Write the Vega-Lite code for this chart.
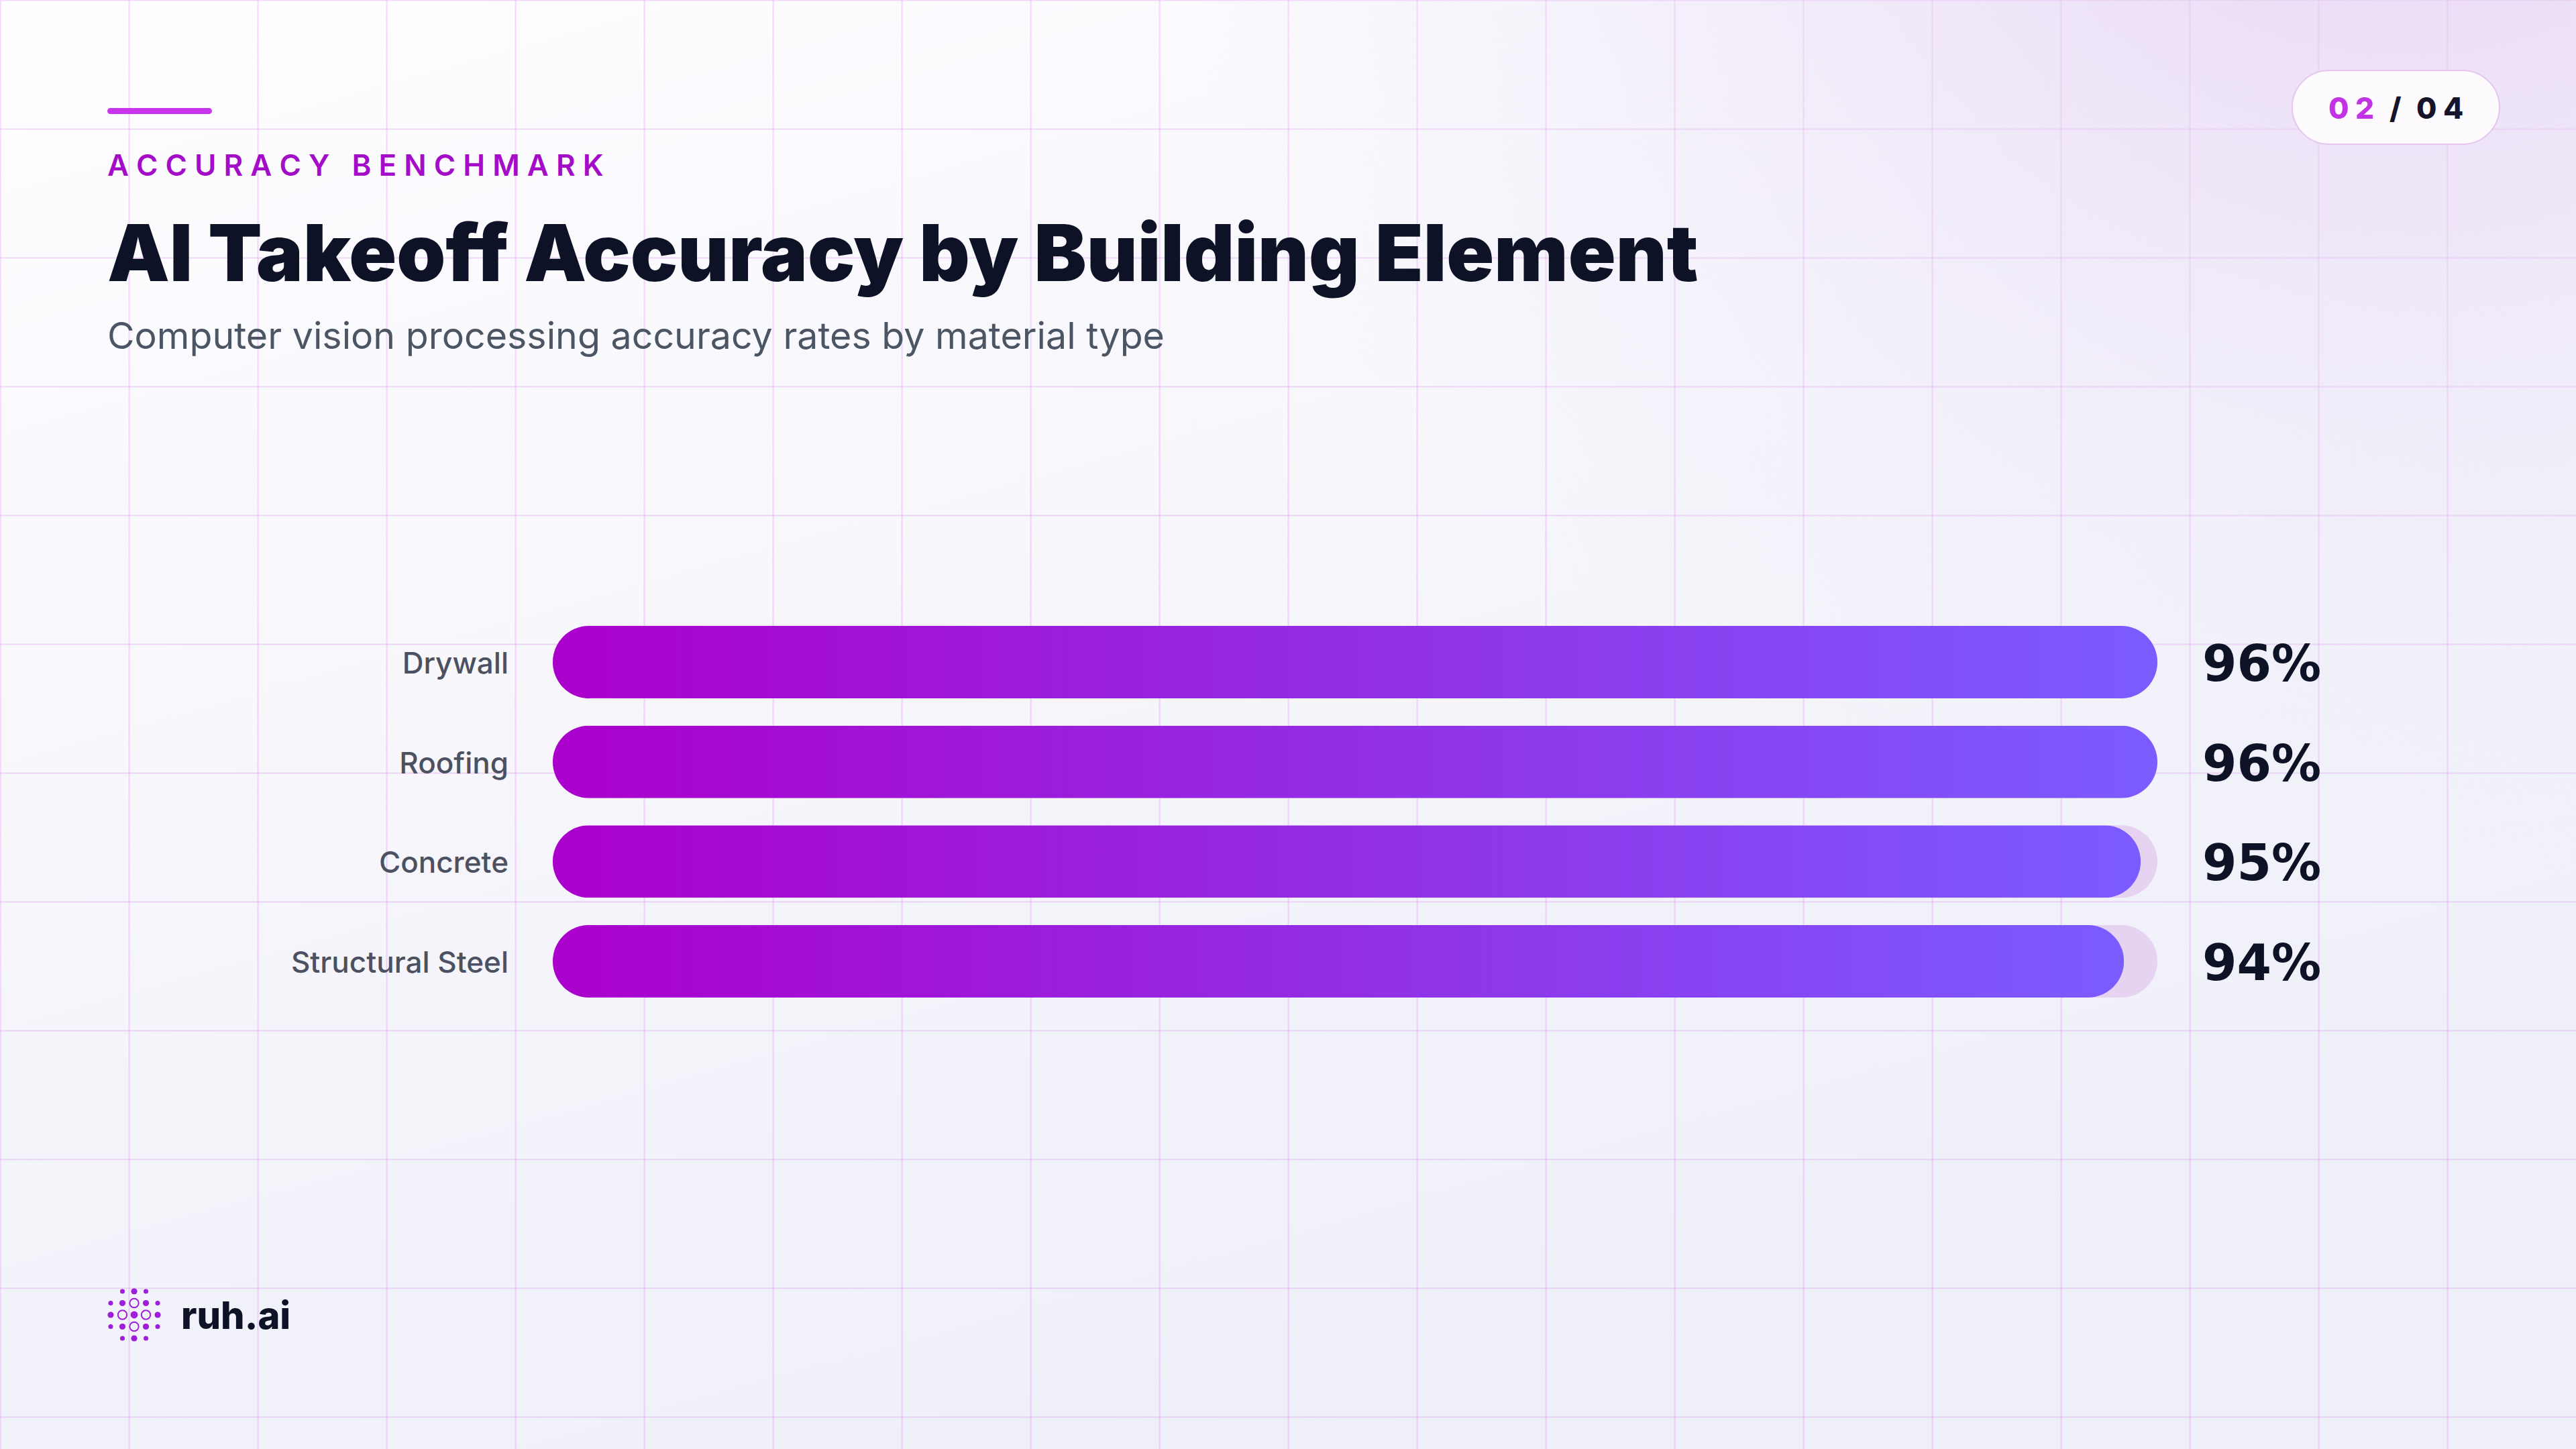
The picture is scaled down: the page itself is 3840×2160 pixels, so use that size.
{
  "$schema": "https://vega.github.io/schema/vega-lite/v6.json",
  "width": 3840,
  "height": 2160,
  "padding": 0,
  "autosize": {"type": "none"},
  "background": "#f6f6fa",
  "config": {
    "font": "Inter",
    "view": {
      "stroke": null,
      "fill": {"gradient": "linear", "x1": 0, "y1": 0, "x2": 0.5, "y2": 1, "stops": [{"offset": 0, "color": "#fefdff"}, {"offset": 1, "color": "#eeeff8"}]}
    },
    "axis": {"labels": false, "ticks": false, "domain": false, "grid": false}
  },
  "resolve": {"scale": {"x": "independent", "y": "independent", "size": "independent"}},
  "layer": [
    {
      "data": {"values": [{"slide": 2, "of": 4}]},
      "layer": [
        {
          "mark": {"type": "rect", "fill": {"gradient": "radial", "x1": 0.93, "y1": 0.06, "r1": 0, "x2": 0.93, "y2": 0.06, "r2": 0.5, "stops": [{"offset": 0, "color": "rgba(224,196,242,0.9)"}, {"offset": 0.45, "color": "rgba(230,212,244,0.5)"}, {"offset": 1, "color": "rgba(236,232,248,0)"}]}},
          "encoding": {
            "x": {"datum": 0, "type": "quantitative", "title": null, "scale": {"domain": [0, 100], "nice": false, "zero": false},
              "axis": {"grid": true, "values": [0, 5, 10, 15, 20, 25, 30, 35, 40, 45, 50, 55, 60, 65, 70, 75, 80, 85, 90, 95], "gridColor": "#c83ce0", "gridOpacity": 0.18, "gridWidth": 2, "labels": false, "ticks": false, "domain": false, "title": null}},
            "x2": {"datum": 100},
            "y": {"datum": 0, "type": "quantitative", "title": null, "scale": {"domain": [0, 100], "nice": false, "zero": false, "reverse": true},
              "axis": {"grid": true, "values": [0, 8.8889, 17.7778, 26.6667, 35.5556, 44.4444, 53.3333, 62.2222, 71.1111, 80, 88.8889, 97.7778], "gridColor": "#c83ce0", "gridOpacity": 0.18, "gridWidth": 2, "labels": false, "ticks": false, "domain": false, "title": null}},
            "y2": {"datum": 100}
          }
        },
        {
          "mark": {"type": "rect", "fill": "#c736ec", "cornerRadius": 5},
          "encoding": {
            "x": {"datum": 4.1667, "type": "quantitative", "title": null},
            "x2": {"datum": 8.229},
            "y": {"datum": 7.45, "type": "quantitative", "title": null},
            "y2": {"datum": 7.87}
          }
        },
        {
          "mark": {"type": "text", "text": "A C C U R A C Y \u2002B E N C H M A R K", "font": "Inter", "fontSize": 44, "fontWeight": 600, "fill": "#a30dc8", "align": "left", "baseline": "alphabetic"},
          "encoding": {
            "x": {"datum": 4.1667, "type": "quantitative", "title": null},
            "y": {"datum": 12.13, "type": "quantitative", "title": null}
          }
        },
        {
          "mark": {"type": "text", "text": "AI Takeoff Accuracy by Building Element", "font": "Inter", "fontSize": 117, "fontWeight": 900, "fill": "#0d1226", "align": "left", "baseline": "alphabetic"},
          "encoding": {
            "x": {"datum": 4.1667, "type": "quantitative", "title": null},
            "y": {"datum": 19.4, "type": "quantitative", "title": null}
          }
        },
        {
          "mark": {"type": "text", "text": "Computer vision processing accuracy rates by material type", "font": "Inter", "fontSize": 55.5, "fontWeight": 400, "fill": "#4b5563", "align": "left", "baseline": "alphabetic"},
          "encoding": {
            "x": {"datum": 4.1667, "type": "quantitative", "title": null},
            "y": {"datum": 24.074, "type": "quantitative", "title": null}
          }
        },
        {
          "mark": {"type": "rect", "fill": "#fdfbfe", "stroke": "#e6c5ee", "strokeWidth": 2, "cornerRadius": 55},
          "encoding": {
            "x": {"datum": 88.98, "type": "quantitative", "title": null},
            "x2": {"datum": 97.03},
            "y": {"datum": 4.861, "type": "quantitative", "title": null},
            "y2": {"datum": 9.954}
          }
        },
        {
          "mark": {"type": "text", "text": "0 2", "font": "Inter", "fontSize": 44, "fontWeight": 800, "fill": "#c233e6", "align": "left", "baseline": "alphabetic"},
          "encoding": {
            "x": {"datum": 90.39, "type": "quantitative", "title": null},
            "y": {"datum": 8.194, "type": "quantitative", "title": null}
          }
        },
        {
          "mark": {"type": "text", "text": "/", "font": "Inter", "fontSize": 44, "fontWeight": 800, "fill": "#15142a", "align": "left", "baseline": "alphabetic"},
          "encoding": {
            "x": {"datum": 92.76, "type": "quantitative", "title": null},
            "y": {"datum": 8.194, "type": "quantitative", "title": null}
          }
        },
        {
          "mark": {"type": "text", "text": "0 4", "font": "Inter", "fontSize": 44, "fontWeight": 800, "fill": "#15142a", "align": "left", "baseline": "alphabetic"},
          "encoding": {
            "x": {"datum": 93.8, "type": "quantitative", "title": null},
            "y": {"datum": 8.194, "type": "quantitative", "title": null}
          }
        },
        {
          "mark": {"type": "text", "text": "ruh.ai", "font": "Inter", "fontSize": 56, "fontWeight": 800, "fill": "#0d1226", "align": "left", "baseline": "alphabetic"},
          "encoding": {
            "x": {"datum": 7.031, "type": "quantitative", "title": null},
            "y": {"datum": 91.71, "type": "quantitative", "title": null}
          }
        }
      ]
    },
    {
      "data": {"values": [
        {"element": "Drywall", "accuracy": 0.96},
        {"element": "Roofing", "accuracy": 0.96},
        {"element": "Concrete", "accuracy": 0.95},
        {"element": "Structural Steel", "accuracy": 0.94}
      ]},
      "encoding": {
        "y": {"field": "element", "type": "nominal", "title": null, "axis": null,
          "scale": {"domain": ["Drywall", "Roofing", "Concrete", "Structural Steel"], "range": [933, 1487], "paddingInner": 0.273, "paddingOuter": 0}}
      },
      "layer": [
        {
          "mark": {"type": "bar", "cornerRadius": 54, "fill": {"gradient": "linear", "x1": 0, "y1": 0, "x2": 1, "y2": 0, "stops": [{"offset": 0, "color": "#e8d2f1"}, {"offset": 1, "color": "#e6d3f1"}]}},
          "encoding": {
            "x": {"datum": 0.96, "type": "quantitative", "title": null, "axis": null, "scale": {"domain": [0, 0.96], "range": [824, 3216], "nice": false}}
          }
        },
        {
          "mark": {"type": "bar", "cornerRadius": 54, "fill": {"gradient": "linear", "x1": 0, "y1": 0, "x2": 1, "y2": 0, "stops": [{"offset": 0, "color": "#ab00cc"}, {"offset": 1, "color": "#7b5cff"}]}},
          "encoding": {
            "x": {"field": "accuracy", "type": "quantitative", "title": null, "axis": null}
          }
        },
        {
          "mark": {"type": "text", "align": "right", "baseline": "middle", "dx": -66, "dy": 4, "font": "Inter", "fontSize": 44, "fontWeight": 500, "fill": "#4b5161"},
          "encoding": {
            "x": {"datum": 0, "type": "quantitative", "title": null, "axis": null},
            "text": {"field": "element"}
          }
        },
        {
          "mark": {"type": "text", "align": "left", "baseline": "middle", "dx": 67, "dy": 6, "font": "DejaVu Sans", "fontSize": 74, "fontWeight": "bold", "fill": "#0d1226"},
          "encoding": {
            "x": {"datum": 0.96, "type": "quantitative", "title": null, "axis": null},
            "text": {"field": "accuracy", "type": "quantitative", "format": ".0%"}
          }
        }
      ]
    },
    {
      "data": {"values": [
        {"gx": -1, "gy": -2, "kind": "small"}, {"gx": 0, "gy": -2, "kind": "big"}, {"gx": 1, "gy": -2, "kind": "small"},
        {"gx": -2, "gy": -1, "kind": "small"}, {"gx": -1, "gy": -1, "kind": "big"}, {"gx": 0, "gy": -1, "kind": "ring"}, {"gx": 1, "gy": -1, "kind": "big"}, {"gx": 2, "gy": -1, "kind": "small"},
        {"gx": -2, "gy": 0, "kind": "big"}, {"gx": -1, "gy": 0, "kind": "ring"}, {"gx": 0, "gy": 0, "kind": "core"}, {"gx": 1, "gy": 0, "kind": "ring"}, {"gx": 2, "gy": 0, "kind": "big"},
        {"gx": -2, "gy": 1, "kind": "small"}, {"gx": -1, "gy": 1, "kind": "big"}, {"gx": 0, "gy": 1, "kind": "ring"}, {"gx": 1, "gy": 1, "kind": "big"}, {"gx": 2, "gy": 1, "kind": "small"},
        {"gx": -1, "gy": 2, "kind": "small"}, {"gx": 0, "gy": 2, "kind": "big"}, {"gx": 1, "gy": 2, "kind": "small"}
      ]},
      "encoding": {
        "x": {"field": "gx", "type": "quantitative", "title": null, "axis": null, "scale": {"domain": [-2, 2], "range": [165, 235], "nice": false, "zero": false}},
        "y": {"field": "gy", "type": "quantitative", "title": null, "axis": null, "scale": {"domain": [-2, 2], "range": [1925, 1995], "nice": false, "zero": false}}
      },
      "layer": [
        {
          "transform": [{"filter": "datum.kind != 'ring'"}],
          "mark": {"type": "point", "shape": "circle", "filled": true, "opacity": 1, "fill": "#9d1fd8", "strokeWidth": 0},
          "encoding": {
            "size": {"field": "kind", "type": "nominal", "legend": null, "scale": {"domain": ["small", "big", "core"], "range": [50, 120, 250]}}
          }
        },
        {
          "transform": [{"filter": "datum.kind == 'ring'"}],
          "mark": {"type": "point", "shape": "circle", "filled": false, "opacity": 1, "stroke": "#9d1fd8", "strokeWidth": 2, "size": 180}
        }
      ]
    }
  ]
}
